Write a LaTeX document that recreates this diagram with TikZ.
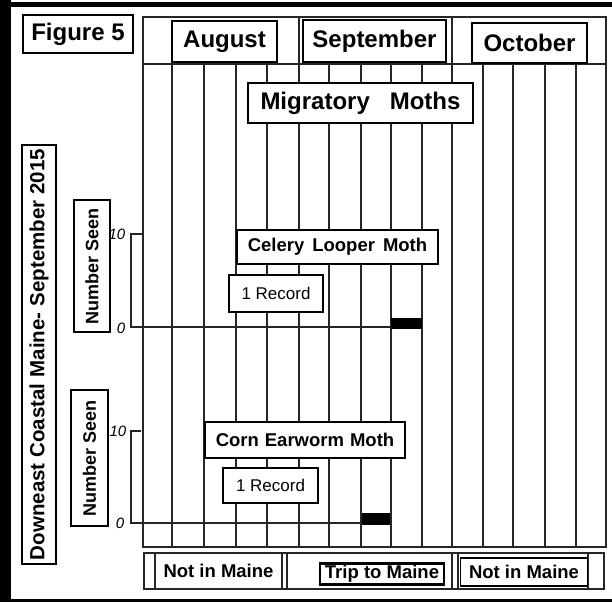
\documentclass[tikz,border=0pt]{standalone}
\usepackage{fontspec}
\setmainfont{Liberation Sans}
\begin{document}
\begin{tikzpicture}[x=1pt,y=-1pt,
  gridline/.style={line width=1.2pt, black!85},
  box/.style={draw, line width=1.5pt, fill=white, inner sep=0pt, align=center},
  big/.style={font=\fontsize{24}{28}\selectfont\bfseries},
  mid/.style={font=\fontsize{18.5}{22}\selectfont\bfseries},
  plain/.style={font=\fontsize{17}{20}\selectfont},
  hand/.style={font=\fontsize{15}{17}\selectfont\itshape, inner sep=0pt},
  axis/.style={line width=1.2pt, black!85},
  bar/.style={fill=black, draw=none, inner sep=0pt}]
\useasboundingbox (0,0) rectangle (612,602);

% heavy page edge
\fill (0,0) rectangle (11,602);
\fill (0,2.5) rectangle (612,7);
\fill (0,599) rectangle (612,602);

% calendar grid
\draw[gridline] (143,17) rectangle (606,547);
\draw[gridline] (143,64) -- (606,64);
\foreach \gx in {172,204,236,267,329,361,391,422,483,513,545,576}
  \draw[gridline] (\gx,64) -- (\gx,547);
\foreach \gx in {299,452}
  \draw[gridline] (\gx,17) -- (\gx,547);

% title and month labels
\node[box, big, minimum width=110, minimum height=38] (fig) at (78,34) {Figure 5};
\node[box, big, minimum width=105, minimum height=41] (aug) at (224.5,41.5) {August};
\node[box, big, minimum width=143, minimum height=42] (sep) at (374.5,41) {September};
\node[box, big, minimum width=115, minimum height=40] (oct) at (529.5,43) {October};
\node[box, big, minimum width=225, minimum height=40] (title) at (360.5,103) {Migratory\hspace{20pt}Moths};

% side captions
\node[box, rotate=90, minimum width=419, minimum height=34] (where) at (39,354.5)
  {\fontsize{20.5}{24}\selectfont\bfseries\spaceskip=6pt Downeast Coastal Maine- September 2015};
\node[box, rotate=90, minimum width=132, minimum height=36, font=\fontsize{18}{21}\selectfont\bfseries] (ns1) at (92,266) {Number Seen};
\node[box, rotate=90, minimum width=136, minimum height=37, font=\fontsize{18}{21}\selectfont\bfseries] (ns2) at (89.5,458) {Number Seen};

% Celery Looper Moth panel
\node[box, mid, minimum width=201, minimum height=34] (celery) at (337.5,247)
  {Celery\hspace{8pt}Looper\hspace{8pt}Moth};
\node[box, plain, minimum width=94, minimum height=37] (rec1) at (276,293.5) {1 Record};
\node[hand] (ten1) at (117,234) {10};
\node[hand] (zero1) at (121,328) {0};
\coordinate (tick1) at (143,234);
\coordinate (top1) at (131,234);
\coordinate (base1) at (131,327);
\node[bar, minimum width=31, minimum height=11] (obs1) at (406.5,323.5) {};
\draw[axis] (tick1) -- (top1) -- (base1) -- (base1 -| obs1.west);

% Corn Earworm Moth panel
\node[box, mid, minimum width=200, minimum height=36] (corn) at (305,440)
  {Corn\hspace{6pt}Earworm\hspace{6pt}Moth};
\node[box, plain, minimum width=95, minimum height=35] (rec2) at (270.5,485.5) {1 Record};
\node[hand] (ten2) at (118,431) {10};
\node[hand] (zero2) at (120,523) {0};
\coordinate (tick2) at (141,431);
\coordinate (top2) at (131,431);
\coordinate (base2) at (131,523);
\node[bar, minimum width=28, minimum height=12] (obs2) at (376,519) {};
\draw[axis] (tick2) -- (top2) -- (base2) -- (base2 -| obs2.west);

% presence strip
\draw[gridline] (144,553) rectangle (604,589);
\foreach \gx in {155,282,287,452,458,588}
  \draw[gridline] (\gx,553) -- (\gx,589);
\node[mid, inner sep=0pt] (out1) at (218.5,571) {Not in Maine};
\node[box, mid, line width=2.2pt, minimum width=124, minimum height=21] (trip) at (382,574) {Trip to Maine};
\node[box, mid, minimum width=127, minimum height=28] (out2) at (524,572) {Not in Maine};
\end{tikzpicture}
\end{document}
